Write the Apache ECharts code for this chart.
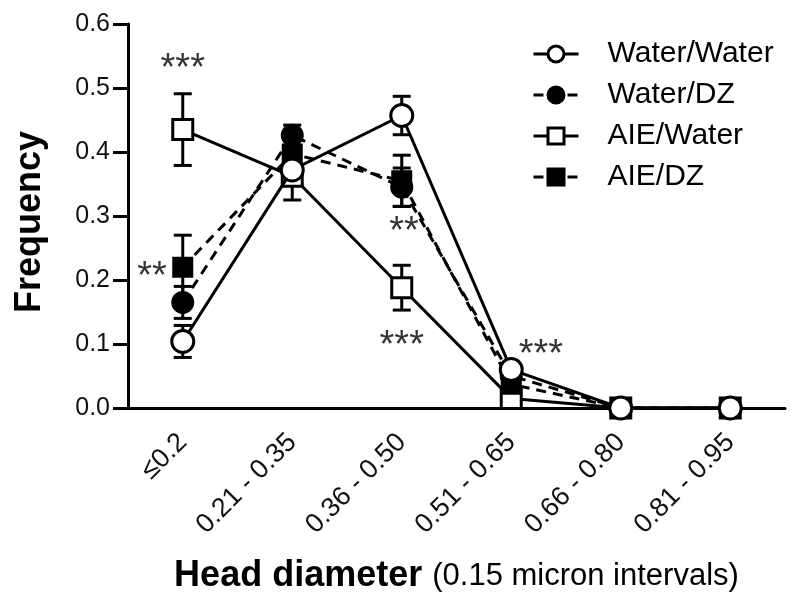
<!DOCTYPE html>
<html><head><meta charset="utf-8">
<script src="https://cdn.jsdelivr.net/npm/echarts@6/dist/echarts.min.js"></script>
<style>html,body{margin:0;padding:0;background:#fff}#c{width:800px;height:609px}</style>
</head><body><div id="c"></div>
<script>
const categories = ['≤0.2', '0.21 - 0.35', '0.36 - 0.50', '0.51 - 0.65', '0.66 - 0.80', '0.81 - 0.95'];
const seriesNames = ['Water/Water', 'Water/DZ', 'AIE/Water', 'AIE/DZ'];
const waterWater    = [0.104, 0.372, 0.457, 0.060, 0.0, 0.0];
const waterWaterErr = [0.025, 0.020, 0.030, 0.005, 0, 0];
const waterDZ       = [0.165, 0.426, 0.345, 0.050, 0.0, 0.0];
const waterDZErr    = [0.025, 0.016, 0.030, 0.010, 0, 0];
const aieWater      = [0.435, 0.362, 0.188, 0.015, 0.0, 0.0];
const aieWaterErr   = [0.056, 0.037, 0.035, 0.005, 0, 0];
const aieDZ         = [0.220, 0.397, 0.355, 0.037, 0.0, 0.0];
const aieDZErr      = [0.050, 0.030, 0.040, 0.010, 0, 0];
const yMin = 0, yMax = 0.6, yStep = 0.1;
// annotation anchors: x in category units, y in frequency
const annotX    = [0.0, -0.28, 2.02, 2.0, 3.27];
const annotY    = [0.541, 0.216, 0.286, 0.109, 0.095];
const annotText = ['***', '**', '**', '***', '***'];

const FONT = 'Liberation Sans, Arial, Helvetica, sans-serif';

function errRender(params, api) {
  const x = api.value(0), y = api.value(1), e = api.value(2);
  const hi = api.coord([x, y + e]), lo = api.coord([x, y - e]);
  const w = 9;
  const style = { stroke: '#000', lineWidth: 3 };
  return { type: 'group', children: [
    { type: 'line', shape: { x1: hi[0], y1: hi[1], x2: lo[0], y2: lo[1] }, style },
    { type: 'line', shape: { x1: hi[0] - w, y1: hi[1], x2: hi[0] + w, y2: hi[1] }, style },
    { type: 'line', shape: { x1: lo[0] - w, y1: lo[1], x2: lo[0] + w, y2: lo[1] }, style }
  ]};
}
function errData(vals, errs) {
  const out = [];
  vals.forEach((v, i) => { if (errs[i] > 0) out.push([i, v, errs[i]]); });
  return out;
}

const groups = [
  { name: 'AIE/Water',   vals: aieWater,   errs: aieWaterErr,   symbol: 'rect',   fill: '#fff', dashed: false, size: 20, z: 3 },
  { name: 'AIE/DZ',      vals: aieDZ,      errs: aieDZErr,      symbol: 'rect',   fill: '#000', dashed: true,  size: 18, z: 4 },
  { name: 'Water/DZ',    vals: waterDZ,    errs: waterDZErr,    symbol: 'circle', fill: '#000', dashed: true,  size: 20, z: 5 },
  { name: 'Water/Water', vals: waterWater, errs: waterWaterErr, symbol: 'circle', fill: '#fff', dashed: false, size: 22, z: 6 }
];

const series = [];
groups.forEach(g => {
  series.push({
    name: g.name + ' SEM', type: 'custom', renderItem: errRender, z: 1,
    data: errData(g.vals, g.errs), encode: { x: 0, y: 1 }, silent: true
  });
});
groups.forEach(g => {
  series.push({
    name: g.name, type: 'line', data: g.vals, z: g.z,
    symbol: g.symbol, symbolSize: g.size, showAllSymbol: true,
    lineStyle: { color: '#000', width: 3, type: g.dashed ? [10, 7] : 'solid' },
    itemStyle: { color: g.fill, borderColor: '#000', borderWidth: 3 },
    emphasis: { disabled: true }, animation: false
  });
});
series.push({
  name: 'annotations', type: 'scatter', xAxisIndex: 1, z: 10,
  symbolSize: 1, itemStyle: { color: 'rgba(0,0,0,0)' },
  data: annotX.map((x, i) => [x, annotY[i], annotText[i]]),
  label: { show: true, position: 'inside', formatter: p => p.value[2],
           fontSize: 38, color: '#000', fontFamily: FONT, offset: [0, 8] },
  silent: true
});

const chart = echarts.init(document.getElementById('c'), null, { renderer: 'canvas' });
chart.setOption({
  animation: false,
  backgroundColor: '#fff',
  grid: { left: 128, right: 15, top: 24, bottom: 201, containLabel: false },
  legend: {
    data: seriesNames, orient: 'vertical', left: 527, top: 34,
    itemWidth: 45, itemHeight: 20, itemGap: 11,
    lineStyle: { width: 3 },
    itemStyle: { borderWidth: 3 },
    textStyle: { fontSize: 30, color: '#000', fontFamily: FONT, padding: [0, 0, 0, 24] },
    selectedMode: false
  },
  xAxis: [{
    type: 'category', data: categories, boundaryGap: true,
    axisLine: { onZero: false, lineStyle: { color: '#000', width: 3 } },
    axisTick: { alignWithLabel: true, length: 12, lineStyle: { color: '#000', width: 3 } },
    axisLabel: { rotate: 45, fontSize: 27, color: '#111', fontFamily: FONT, margin: 30, interval: 0 },
    splitLine: { show: false },
    name: '{b|Head diameter }{n|(0.15 micron intervals)}',
    nameLocation: 'middle', nameGap: 150,
    nameTextStyle: { rich: {
      b: { fontSize: 36, fontWeight: 'bold', color: '#000', fontFamily: FONT },
      n: { fontSize: 31, color: '#000', fontFamily: FONT }
    } }
  }, {
    type: 'value', min: -0.5, max: 5.5, show: false
  }],
  yAxis: {
    type: 'value', min: yMin, max: yMax, interval: yStep,
    axisLine: { show: true, onZero: false, lineStyle: { color: '#000', width: 3 } },
    axisTick: { show: true, length: 15, lineStyle: { color: '#000', width: 3 } },
    axisLabel: { fontSize: 25, color: '#111', fontFamily: FONT, margin: 18, formatter: v => v.toFixed(1) },
    splitLine: { show: false },
    name: 'Frequency', nameLocation: 'middle', nameGap: 80,
    nameTextStyle: { fontSize: 36, fontWeight: 'bold', color: '#000', fontFamily: FONT, padding: [0, 12, 0, 0] }
  },
  series
});
</script></body></html>
